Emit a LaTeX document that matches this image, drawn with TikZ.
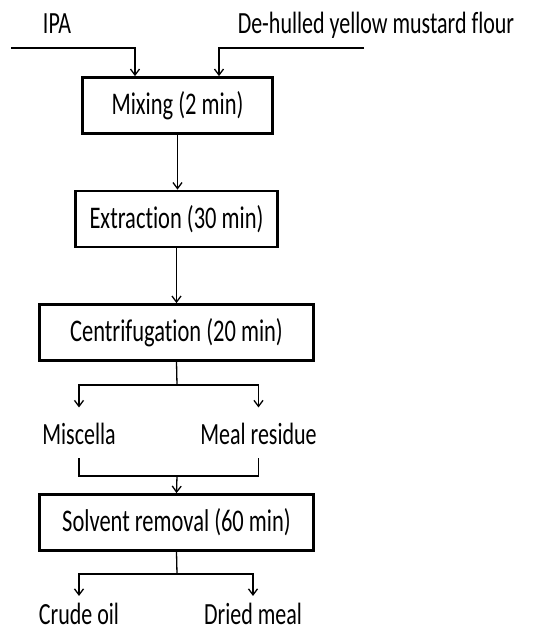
\documentclass[tikz,border=0pt]{standalone}
\usepackage{fontspec}
\setmainfont{Carlito}[Ligatures=NoCommon]
\usetikzlibrary{arrows.meta}
\newcommand{\vtx}[1]{\scalebox{1}[1.4]{#1}}
\begin{document}
\begin{tikzpicture}[x=1pt,y=-1pt,
 procbox/.style={draw, line width=2.8pt, minimum width=#1, minimum height=56pt, inner sep=0pt, font=\fontsize{22.5}{26}\selectfont},
 lbl/.style={inner sep=0pt, anchor=base, font=\fontsize{22}{26}\selectfont},
 conn/.style={line width=1.3pt},
 arr/.style={conn, -{Straight Barb[length=6pt,width=9pt,line width=1.3pt]}},
]
\useasboundingbox (0,0) rectangle (540,633);
% process boxes
\node[procbox=190pt] (mix) at (177.5,105.5) {\vtx{Mixing (2 min)}};
\node[procbox=202pt] (ext) at (176.5,219) {\vtx{Extraction (30 min)}};
\node[procbox=274pt] (cen) at (176.5,332.5) {\vtx{Centrifugation (20 min)}};
\node[procbox=274pt] (sol) at (176.5,522.5) {\vtx{Solvent removal (60 min)}};
% labels
\node[lbl] (ipa) at (57,33) {\vtx{IPA}};
\node[lbl] (flour) at (376,33) {\vtx{De-hulled yellow mustard flour}};
\node[lbl] (misc) at (79,444) {\vtx{Miscella}};
\node[lbl] (meal) at (258.5,444) {\vtx{Meal residue}};
\node[lbl] (crude) at (79,624.5) {\vtx{Crude oil}};
\node[lbl] (dried) at (253,624.5) {\vtx{Dried meal}};
% inputs
\coordinate (ipaL) at (11,48);
\coordinate (flourR) at (364,48);
\draw[arr] (ipaL) -| ([xshift=-42.5pt]mix.north);
\draw[arr] (flourR) -| ([xshift=41.5pt]mix.north);
% main flow
\draw[arr] (mix.south) -- (mix.south |- ext.north);
\draw[arr] (ext.south) -- (cen.north);
% centrifugation split
\coordinate (cs) at (177,385);
\draw[conn] (cen.south) -- (cs);
\draw[arr] (cs) -| ([yshift=15pt]misc.north);
\draw[arr] (cs) -| ([yshift=15pt]meal.north);
% merge
\coordinate (mj) at (177,476);
\draw[conn] ([yshift=-14pt]misc.south) |- (mj);
\draw[conn] ([yshift=-14pt]meal.south) |- (mj);
\draw[arr] (mj) -- (sol.north);
% solvent split
\coordinate (ss) at (177,574);
\draw[conn] (sol.south) -- (ss);
\draw[arr] (ss) -| ([yshift=7pt]crude.north);
\draw[arr] (ss) -| ([yshift=7pt]dried.north);
\end{tikzpicture}
\end{document}
